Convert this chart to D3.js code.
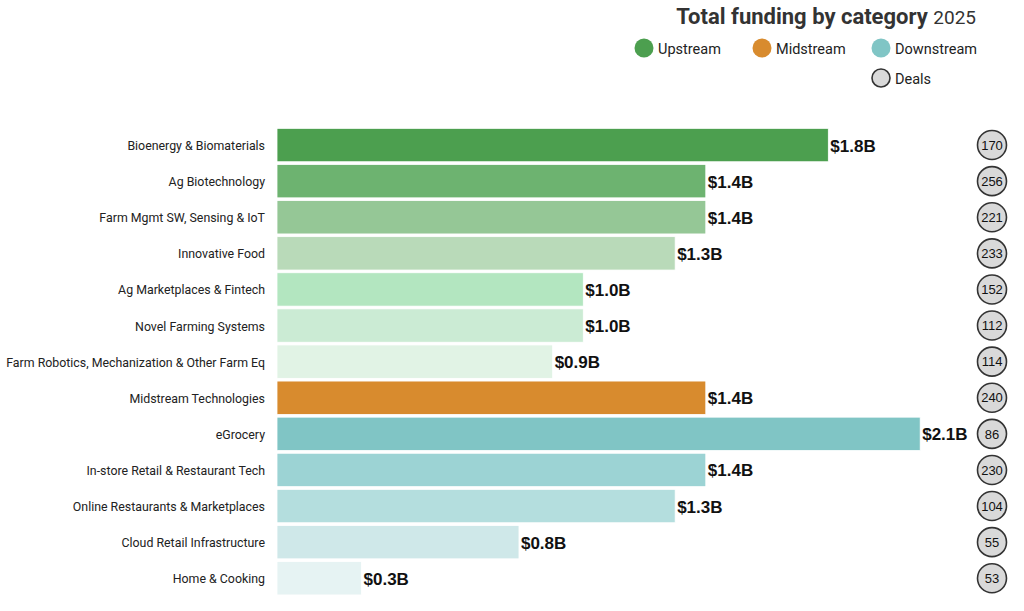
<!DOCTYPE html>
<html>
<head>
<meta charset="utf-8">
<script src="https://cdn.jsdelivr.net/npm/d3@7"></script>
<style>
  html, body { margin: 0; padding: 0; background: #fff; }
  svg { display: block; }
</style>
</head>
<body>
<svg id="chart" width="1024" height="611"></svg>
<script>
const categories = [
  "Bioenergy & Biomaterials",
  "Ag Biotechnology",
  "Farm Mgmt SW, Sensing & IoT",
  "Innovative Food",
  "Ag Marketplaces & Fintech",
  "Novel Farming Systems",
  "Farm Robotics, Mechanization & Other Farm Eq",
  "Midstream Technologies",
  "eGrocery",
  "In-store Retail & Restaurant Tech",
  "Online Restaurants & Marketplaces",
  "Cloud Retail Infrastructure",
  "Home & Cooking"
];
const funding = [1.8, 1.4, 1.4, 1.3, 1.0, 1.0, 0.9, 1.4, 2.1, 1.4, 1.3, 0.79, 0.276];
const fundingLabels = ["$1.8B","$1.4B","$1.4B","$1.3B","$1.0B","$1.0B","$0.9B","$1.4B","$2.1B","$1.4B","$1.3B","$0.8B","$0.3B"];
const deals = [170, 256, 221, 233, 152, 112, 114, 240, 86, 230, 104, 55, 53];
const streams = ["Upstream","Upstream","Upstream","Upstream","Upstream","Upstream","Upstream",
                 "Midstream","Downstream","Downstream","Downstream","Downstream","Downstream"];
const barColors = ["#4c9f4f","#6db370","#95c796","#b9dab9","#b3e6c0","#cbebd4","#e1f3e5",
                   "#d88b2e","#80c5c5","#9cd3d4","#b4dede","#cfe8e9","#e6f3f3"];
const legendItems = ["Upstream","Midstream","Downstream"];
const legendColors = ["#4c9f4f","#d88b2e","#80c5c5"];

const svg = d3.select("#chart");
const labelFont = "Roboto, 'Noto Sans', sans-serif";

const x = d3.scaleLinear().domain([0, 2.1]).range([277, 920.2]);
const y = d3.scaleBand().domain(categories).range([127, 596.3])
  .paddingInner(0.075).paddingOuter(0.0375);

// Title
const title = svg.append("text")
  .attr("x", 976).attr("y", 24)
  .attr("text-anchor", "end")
  .attr("font-family", labelFont)
  .attr("fill", "#333")
  .attr("font-size", 22);
title.append("tspan").attr("font-weight", 700).text("Total funding by category ");
title.append("tspan").attr("font-weight", 400).attr("font-size", 19).text("2025");

// Legend
const legendX = [644, 762, 881];
legendItems.forEach((name, i) => {
  svg.append("circle").attr("cx", legendX[i]).attr("cy", 48).attr("r", 9.5)
    .attr("fill", legendColors[i]);
  svg.append("text").attr("x", legendX[i] + 14).attr("y", 54)
    .attr("font-family", labelFont).attr("font-size", 14.5).attr("fill", "#222")
    .text(name);
});
svg.append("circle").attr("cx", 881).attr("cy", 78).attr("r", 9)
  .attr("fill", "#d9d9d9").attr("stroke", "#333").attr("stroke-width", 1.6);
svg.append("text").attr("x", 895).attr("y", 84)
  .attr("font-family", labelFont).attr("font-size", 14.5).attr("fill", "#222")
  .text("Deals");

const rows = categories.map((c, i) => ({
  cat: c, val: funding[i], lab: fundingLabels[i], deals: deals[i], color: barColors[i]
}));

// Bars
svg.append("g").selectAll("rect").data(rows).join("rect")
  .attr("x", x(0))
  .attr("y", d => y(d.cat))
  .attr("width", d => x(d.val) - x(0))
  .attr("height", y.bandwidth())
  .attr("fill", d => d.color)
  .attr("stroke", "#ffffff")
  .attr("stroke-width", 0.8);

// Category labels
const yAxis = d3.axisLeft(y).tickSize(0).tickPadding(12);
const ag = svg.append("g").attr("transform", `translate(${x(0)},1)`).call(yAxis);
ag.select(".domain").remove();
const labels = ag.selectAll("text")
  .attr("font-family", labelFont)
  .attr("font-size", 12.5)
  .attr("fill", "#222");
// fit the longest label into the available left margin
let maxW = 0;
labels.each(function() { maxW = Math.max(maxW, this.getComputedTextLength()); });
if (maxW > 259) labels.attr("font-size", 12.5 * 259 / maxW);

// Value labels
svg.append("g").selectAll("text").data(rows).join("text")
  .attr("x", d => x(d.val) + 2)
  .attr("y", d => y(d.cat) + y.bandwidth() / 2 + 6.5)
  .attr("font-family", "'Liberation Sans', Arial, sans-serif")
  .attr("font-weight", 700)
  .attr("font-size", 17)
  .attr("fill", "#111")
  .text(d => d.lab);

// Deals circles
const dg = svg.append("g").selectAll("g").data(rows).join("g")
  .attr("transform", d => `translate(992,${y(d.cat) + y.bandwidth() / 2})`);
dg.append("circle").attr("r", 14.5)
  .attr("fill", "#d9d9d9").attr("stroke", "#333").attr("stroke-width", 1.6);
dg.append("text")
  .attr("text-anchor", "middle").attr("dy", "0.36em")
  .attr("font-family", "'Liberation Sans', Arial, sans-serif")
  .attr("font-size", 13).attr("fill", "#111")
  .text(d => d.deals);
</script>
</body>
</html>
